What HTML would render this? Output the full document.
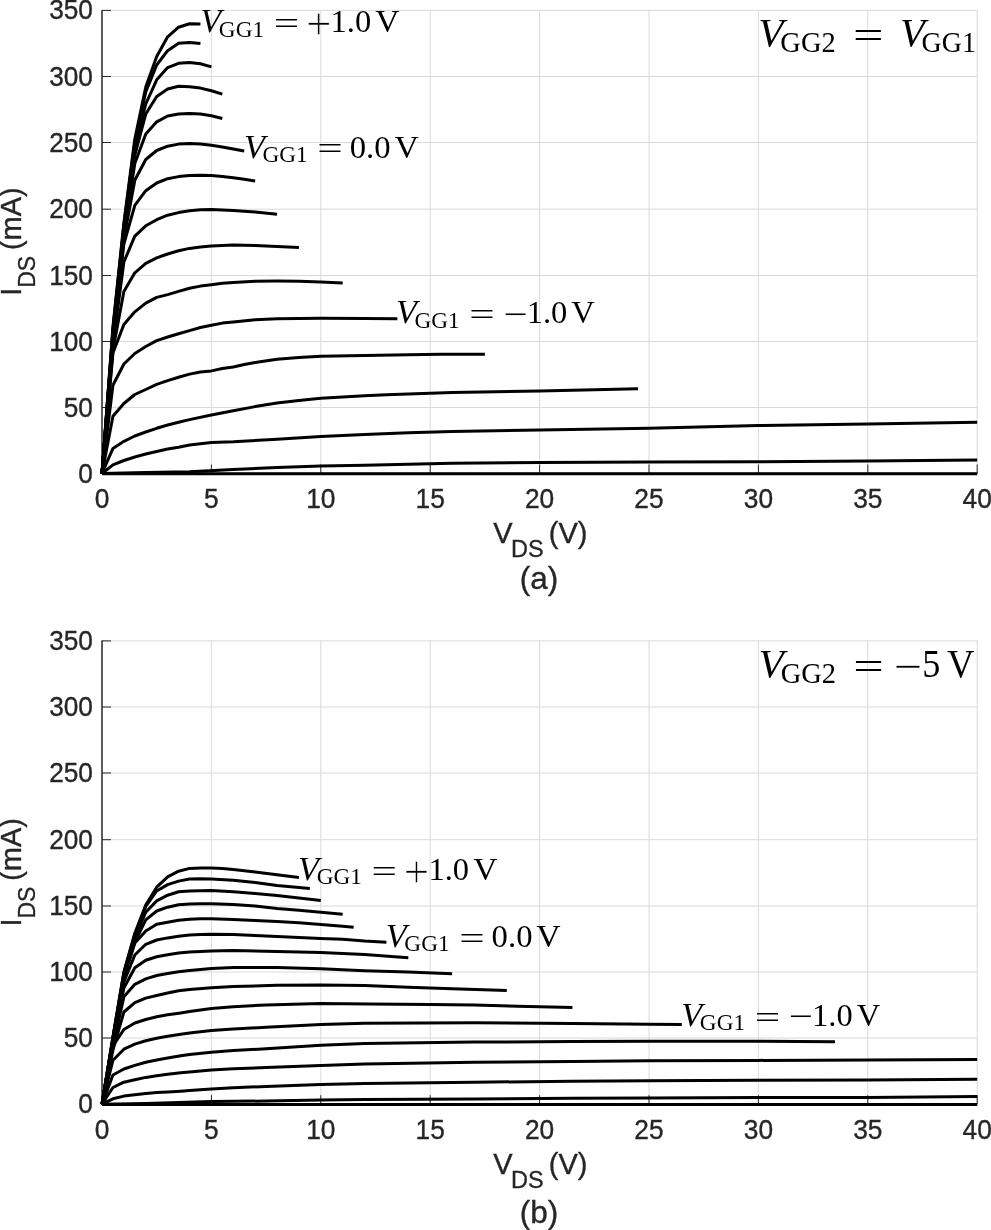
<!DOCTYPE html>
<html><head><meta charset="utf-8"><title>I-V characteristics</title>
<style>
html,body{margin:0;padding:0;background:#fff;}
body{width:991px;height:1230px;overflow:hidden;}
svg{display:block;}
.tk{font-family:'Liberation Sans',Arial,sans-serif;font-size:27px;fill:#262626;stroke:#262626;stroke-width:0.35px;}
.yl{font-family:'Liberation Sans',Arial,sans-serif;font-size:29px;fill:#262626;stroke:#262626;stroke-width:0.35px;}
.ys{font-family:'Liberation Sans',Arial,sans-serif;font-size:23px;fill:#262626;stroke:#262626;stroke-width:0.3px;}
</style></head>
<body>
<svg width="991" height="1230" viewBox="0 0 991 1230">
<rect width="991" height="1230" fill="#fff"/>
<path d="M211.40,9.90V473.50M320.80,9.90V473.50M430.20,9.90V473.50M539.60,9.90V473.50M649.00,9.90V473.50M758.40,9.90V473.50M867.80,9.90V473.50M977.20,9.90V473.50M102.00,407.50H977.20M102.00,341.50H977.20M102.00,275.50H977.20M102.00,209.20H977.20M102.00,142.50H977.20M102.00,76.50H977.20M102.00,10.40H977.20" stroke="#dadada" stroke-width="1" fill="none"/>
<path d="M102.00,9.90V473.50" stroke="#262626" stroke-width="1.5" fill="none"/>
<path d="M102.00,473.50H977.20" stroke="#262626" stroke-width="1.5" fill="none"/>
<path d="M211.40,473.50v-9M320.80,473.50v-9M430.20,473.50v-9M539.60,473.50v-9M649.00,473.50v-9M758.40,473.50v-9M867.80,473.50v-9M977.20,473.50v-9M102.00,407.50h9M102.00,341.50h9M102.00,275.50h9M102.00,209.20h9M102.00,142.50h9M102.00,76.50h9M102.00,10.40h9" stroke="#262626" stroke-width="1" fill="none"/>
<polyline points="102.00,473.50 112.94,327.00 123.88,223.00 134.82,139.00 145.76,87.00 156.70,56.60 167.64,36.80 178.58,27.20 189.52,23.70 200.46,24.10" fill="none" stroke="#000" stroke-width="3" stroke-linejoin="round"/>
<polyline points="102.00,473.50 112.94,329.00 123.88,225.00 134.82,142.00 145.76,92.00 156.70,65.00 167.64,50.70 178.58,43.20 189.52,42.50 200.46,43.50" fill="none" stroke="#000" stroke-width="3" stroke-linejoin="round"/>
<polyline points="102.00,473.50 112.94,331.00 123.88,229.00 134.82,149.00 145.76,104.00 156.70,79.80 167.64,67.60 178.58,63.30 189.52,62.60 200.46,63.70 211.40,66.90" fill="none" stroke="#000" stroke-width="3" stroke-linejoin="round"/>
<polyline points="102.00,473.50 112.94,333.00 123.88,232.00 134.82,155.00 145.76,114.00 156.70,96.50 167.64,89.00 178.58,86.30 189.52,86.70 200.46,88.10 211.40,90.80 222.34,94.10" fill="none" stroke="#000" stroke-width="3" stroke-linejoin="round"/>
<polyline points="102.00,473.50 112.94,335.00 123.88,235.00 134.82,163.50 145.76,134.00 156.70,121.80 167.64,116.00 178.58,114.10 189.52,113.50 200.46,114.10 211.40,115.70 222.34,118.50" fill="none" stroke="#000" stroke-width="3" stroke-linejoin="round"/>
<polyline points="102.00,473.50 112.94,338.00 123.88,239.00 134.82,180.20 145.76,159.50 156.70,150.50 167.64,146.20 178.58,144.10 189.52,143.40 200.46,144.00 211.40,145.30 222.34,147.00 233.28,149.00 244.22,150.90" fill="none" stroke="#000" stroke-width="3" stroke-linejoin="round"/>
<polyline points="102.00,473.50 112.94,341.00 123.88,244.00 134.82,205.30 145.76,190.70 156.70,183.00 167.64,178.70 178.58,176.60 189.52,175.50 200.46,175.20 211.40,175.60 222.34,176.40 233.28,177.80 244.22,179.30 255.16,180.90" fill="none" stroke="#000" stroke-width="3" stroke-linejoin="round"/>
<polyline points="102.00,473.50 112.94,345.00 123.88,262.00 134.82,236.10 145.76,225.80 156.70,219.70 167.64,215.20 178.58,212.60 189.52,210.80 200.46,209.80 211.40,209.40 233.28,210.60 255.16,212.00 277.04,214.30" fill="none" stroke="#000" stroke-width="3" stroke-linejoin="round"/>
<polyline points="102.00,473.50 112.94,350.00 123.88,291.50 134.82,272.80 145.76,263.30 156.70,257.80 167.64,254.00 178.58,250.80 189.52,248.40 200.46,247.00 211.40,246.00 233.28,245.00 255.16,245.50 277.04,246.50 298.92,247.50" fill="none" stroke="#000" stroke-width="3" stroke-linejoin="round"/>
<polyline points="102.00,473.50 112.94,353.00 123.88,324.50 134.82,311.80 145.76,303.10 156.70,297.40 167.64,294.60 178.58,291.40 189.52,288.30 200.46,286.10 211.40,284.70 222.34,283.30 233.28,282.50 255.16,281.20 277.04,281.10 298.92,281.30 320.80,282.00 342.68,282.90" fill="none" stroke="#000" stroke-width="3" stroke-linejoin="round"/>
<polyline points="102.00,473.50 112.94,385.30 123.88,364.00 134.82,353.50 145.76,346.50 156.70,340.60 167.64,337.00 178.58,333.70 189.52,330.60 200.46,327.50 211.40,325.30 222.34,323.10 233.28,322.00 255.16,319.80 277.04,318.80 320.80,318.20 364.56,318.40 397.38,318.80" fill="none" stroke="#000" stroke-width="3" stroke-linejoin="round"/>
<polyline points="102.00,473.50 112.94,416.30 123.88,403.50 134.82,394.50 145.76,389.50 156.70,384.30 167.64,380.60 178.58,377.20 189.52,374.10 200.46,372.00 211.40,370.90 222.34,368.50 233.28,367.00 244.22,364.50 255.16,362.50 277.04,359.20 298.92,357.50 320.80,356.30 364.56,355.50 408.32,354.80 441.14,354.20 484.90,354.30" fill="none" stroke="#000" stroke-width="3" stroke-linejoin="round"/>
<polyline points="102.00,473.50 112.94,448.40 123.88,441.30 134.82,436.00 145.76,432.00 156.70,428.30 167.64,425.00 178.58,422.20 189.52,419.60 211.40,415.00 233.28,410.80 255.16,406.60 277.04,403.00 298.92,400.40 320.80,398.30 342.68,396.90 364.56,395.80 386.44,394.70 408.32,393.90 430.20,393.30 452.08,392.60 495.84,391.70 539.60,391.00 583.36,389.90 638.06,388.70" fill="none" stroke="#000" stroke-width="3" stroke-linejoin="round"/>
<polyline points="102.00,473.50 112.94,464.80 123.88,460.50 134.82,457.00 145.76,454.00 156.70,451.50 167.64,449.00 178.58,447.20 189.52,445.00 211.40,442.50 233.28,441.80 277.04,439.20 320.80,436.50 364.56,434.50 408.32,432.70 452.08,431.50 539.60,430.00 649.00,428.30 758.40,425.60 867.80,424.00 977.20,422.30" fill="none" stroke="#000" stroke-width="3" stroke-linejoin="round"/>
<polyline points="102.00,473.50 123.88,473.00 145.76,472.50 189.52,471.80 233.28,469.50 277.04,467.50 320.80,466.00 364.56,465.30 408.32,464.20 452.08,463.20 539.60,462.50 649.00,462.00 758.40,461.70 867.80,461.10 977.20,460.00" fill="none" stroke="#000" stroke-width="3" stroke-linejoin="round"/>
<polyline points="102.00,473.80 977.20,473.80" fill="none" stroke="#000" stroke-width="3" stroke-linejoin="round"/>
<text transform="translate(92.9,482.50) scale(0.972,1)" text-anchor="end" class="tk">0</text>
<text transform="translate(92.9,416.50) scale(0.972,1)" text-anchor="end" class="tk">50</text>
<text transform="translate(92.9,350.50) scale(0.972,1)" text-anchor="end" class="tk">100</text>
<text transform="translate(92.9,284.50) scale(0.972,1)" text-anchor="end" class="tk">150</text>
<text transform="translate(92.9,218.20) scale(0.972,1)" text-anchor="end" class="tk">200</text>
<text transform="translate(92.9,151.50) scale(0.972,1)" text-anchor="end" class="tk">250</text>
<text transform="translate(92.9,85.50) scale(0.972,1)" text-anchor="end" class="tk">300</text>
<text transform="translate(92.9,19.40) scale(0.972,1)" text-anchor="end" class="tk">350</text>
<text transform="translate(102.00,508.10) scale(0.975,1)" text-anchor="middle" class="tk">0</text>
<text transform="translate(211.40,508.10) scale(0.975,1)" text-anchor="middle" class="tk">5</text>
<text transform="translate(320.80,508.10) scale(0.975,1)" text-anchor="middle" class="tk">10</text>
<text transform="translate(430.20,508.10) scale(0.975,1)" text-anchor="middle" class="tk">15</text>
<text transform="translate(539.60,508.10) scale(0.975,1)" text-anchor="middle" class="tk">20</text>
<text transform="translate(649.00,508.10) scale(0.975,1)" text-anchor="middle" class="tk">25</text>
<text transform="translate(758.40,508.10) scale(0.975,1)" text-anchor="middle" class="tk">30</text>
<text transform="translate(867.80,508.10) scale(0.975,1)" text-anchor="middle" class="tk">35</text>
<text transform="translate(977.20,508.10) scale(0.975,1)" text-anchor="middle" class="tk">40</text>
<text transform="translate(493.16,542.90)" style="font-family:'Liberation Sans', Arial, sans-serif;font-size:29px;fill:#262626;stroke:#262626;stroke-width:0.35px">V</text>
<text transform="translate(511.12,556.80)" style="font-family:'Liberation Sans', Arial, sans-serif;font-size:23.5px;fill:#262626;stroke:#262626;stroke-width:0.3px">DS</text>
<text transform="translate(548.76,543.00)" style="font-family:'Liberation Sans', Arial, sans-serif;font-size:29px;fill:#262626;stroke:#262626;stroke-width:0.35px">(V)</text>
<g transform="translate(20.8,295.70) rotate(-90)"><text x="0" y="0" class="yl">I</text><text x="7.90" y="14.2" class="ys">DS</text><text x="45.60" y="0" class="yl">(mA)</text></g>
<path d="M211.40,640.40V1104.20M320.80,640.40V1104.20M430.20,640.40V1104.20M539.60,640.40V1104.20M649.00,640.40V1104.20M758.40,640.40V1104.20M867.80,640.40V1104.20M977.20,640.40V1104.20M102.00,1038.00H977.20M102.00,972.00H977.20M102.00,906.00H977.20M102.00,839.70H977.20M102.00,773.00H977.20M102.00,707.00H977.20M102.00,640.90H977.20" stroke="#dadada" stroke-width="1" fill="none"/>
<path d="M102.00,640.40V1104.20" stroke="#262626" stroke-width="1.5" fill="none"/>
<path d="M102.00,1104.20H977.20" stroke="#262626" stroke-width="1.5" fill="none"/>
<path d="M211.40,1104.20v-9M320.80,1104.20v-9M430.20,1104.20v-9M539.60,1104.20v-9M649.00,1104.20v-9M758.40,1104.20v-9M867.80,1104.20v-9M977.20,1104.20v-9M102.00,1038.00h9M102.00,972.00h9M102.00,906.00h9M102.00,839.70h9M102.00,773.00h9M102.00,707.00h9M102.00,640.90h9" stroke="#262626" stroke-width="1" fill="none"/>
<polyline points="102.00,1104.20 112.94,1037.00 123.88,972.00 134.82,933.20 145.76,905.10 156.70,887.20 167.64,876.80 178.58,871.20 189.52,868.40 200.46,867.90 211.40,868.10 222.34,868.60 233.28,869.50 255.16,872.00 277.04,874.80 298.92,877.50" fill="none" stroke="#000" stroke-width="3" stroke-linejoin="round"/>
<polyline points="102.00,1104.20 112.94,1037.50 123.88,973.00 134.82,935.00 145.76,906.50 156.70,891.00 167.64,884.60 178.58,881.10 189.52,879.00 200.46,878.70 211.40,879.00 233.28,880.20 255.16,882.50 277.04,885.60 298.92,887.50 309.86,888.40" fill="none" stroke="#000" stroke-width="3" stroke-linejoin="round"/>
<polyline points="102.00,1104.20 112.94,1038.00 123.88,974.00 134.82,938.00 145.76,912.20 156.70,900.90 167.64,895.20 178.58,891.70 189.52,891.00 200.46,890.70 211.40,890.50 233.28,891.70 255.16,893.50 277.04,895.50 298.92,898.00 320.80,900.40" fill="none" stroke="#000" stroke-width="3" stroke-linejoin="round"/>
<polyline points="102.00,1104.20 112.94,1039.00 123.88,976.00 134.82,942.00 145.76,919.90 156.70,911.00 167.64,907.20 178.58,904.80 189.52,904.00 200.46,903.70 211.40,903.70 233.28,904.50 255.16,906.00 277.04,908.40 298.92,910.30 320.80,912.30 342.68,914.30" fill="none" stroke="#000" stroke-width="3" stroke-linejoin="round"/>
<polyline points="102.00,1104.20 112.94,1040.00 123.88,978.00 134.82,943.00 145.76,931.00 156.70,924.20 167.64,922.30 178.58,920.30 189.52,919.20 200.46,918.80 211.40,918.80 233.28,919.40 255.16,920.50 277.04,921.60 298.92,922.70 320.80,924.50 342.68,926.30 353.62,927.30" fill="none" stroke="#000" stroke-width="3" stroke-linejoin="round"/>
<polyline points="102.00,1104.20 112.94,1041.00 123.88,982.00 134.82,955.00 145.76,944.30 156.70,940.00 167.64,937.90 178.58,936.20 189.52,935.00 200.46,934.50 211.40,934.30 233.28,934.50 255.16,935.50 277.04,936.50 298.92,937.50 320.80,938.50 342.68,939.30 364.56,941.00 386.44,942.20" fill="none" stroke="#000" stroke-width="3" stroke-linejoin="round"/>
<polyline points="102.00,1104.20 112.94,1043.00 123.88,988.00 134.82,967.80 145.76,960.30 156.70,956.80 167.64,954.80 178.58,953.10 189.52,952.00 200.46,951.40 211.40,951.00 233.28,950.60 277.04,951.50 320.80,952.50 364.56,954.50 408.32,957.70" fill="none" stroke="#000" stroke-width="3" stroke-linejoin="round"/>
<polyline points="102.00,1104.20 112.94,1046.00 123.88,996.80 134.82,984.30 145.76,978.90 156.70,975.50 167.64,973.60 178.58,971.80 189.52,970.40 200.46,969.40 211.40,968.40 233.28,967.50 277.04,967.60 320.80,968.70 364.56,970.70 408.32,972.00 452.08,973.70" fill="none" stroke="#000" stroke-width="3" stroke-linejoin="round"/>
<polyline points="102.00,1104.20 112.94,1050.00 123.88,1012.00 134.82,1002.70 145.76,998.10 156.70,995.50 167.64,993.00 178.58,990.80 189.52,989.50 211.40,987.70 233.28,986.60 277.04,985.30 320.80,984.90 364.56,985.60 408.32,987.20 452.08,988.70 506.78,990.60" fill="none" stroke="#000" stroke-width="3" stroke-linejoin="round"/>
<polyline points="102.00,1104.20 112.94,1046.00 123.88,1029.50 134.82,1023.00 145.76,1019.50 156.70,1016.80 167.64,1014.80 180.77,1012.90 189.52,1011.60 211.40,1008.60 233.28,1006.70 266.10,1004.90 320.80,1003.50 368.94,1003.90 430.20,1004.50 473.96,1005.00 517.72,1006.20 572.42,1007.50" fill="none" stroke="#000" stroke-width="3" stroke-linejoin="round"/>
<polyline points="102.00,1104.20 112.94,1060.20 123.88,1049.20 134.82,1044.10 145.76,1040.80 156.70,1038.30 167.64,1036.20 180.77,1034.20 189.52,1033.00 211.40,1030.50 233.28,1029.00 266.10,1027.30 320.80,1024.40 364.56,1023.30 473.96,1022.80 572.42,1023.40 649.00,1024.30 681.82,1024.40" fill="none" stroke="#000" stroke-width="3" stroke-linejoin="round"/>
<polyline points="102.00,1104.20 112.94,1075.00 123.88,1069.00 134.82,1065.40 145.76,1062.30 156.70,1060.00 167.64,1058.00 180.77,1055.70 189.52,1054.50 211.40,1052.20 233.28,1050.60 266.10,1048.80 320.80,1045.20 364.56,1043.50 473.96,1042.10 572.42,1041.50 649.00,1041.30 758.40,1041.30 834.98,1041.80" fill="none" stroke="#000" stroke-width="3" stroke-linejoin="round"/>
<polyline points="102.00,1104.20 112.94,1087.50 123.88,1082.20 134.82,1079.70 145.76,1077.40 156.70,1075.70 167.64,1074.20 180.77,1072.80 189.52,1071.90 211.40,1070.00 233.28,1068.80 266.10,1067.50 320.80,1065.50 364.56,1064.00 473.96,1062.30 572.42,1061.50 649.00,1060.80 758.40,1060.40 867.80,1059.90 977.20,1059.50" fill="none" stroke="#000" stroke-width="3" stroke-linejoin="round"/>
<polyline points="102.00,1104.20 112.94,1098.80 123.88,1096.10 134.82,1094.80 145.76,1093.60 156.70,1092.60 167.64,1092.00 180.77,1091.20 189.52,1090.50 211.40,1088.90 233.28,1087.70 266.10,1086.50 320.80,1084.50 364.56,1083.50 473.96,1082.20 572.42,1081.30 649.00,1080.80 758.40,1080.30 867.80,1079.90 977.20,1079.20" fill="none" stroke="#000" stroke-width="3" stroke-linejoin="round"/>
<polyline points="102.00,1104.20 145.76,1103.60 211.40,1101.60 266.10,1101.00 320.80,1099.90 364.56,1099.40 473.96,1099.10 572.42,1098.20 649.00,1097.90 758.40,1097.60 867.80,1097.40 977.20,1096.50" fill="none" stroke="#000" stroke-width="3" stroke-linejoin="round"/>
<polyline points="102.00,1104.50 977.20,1104.50" fill="none" stroke="#000" stroke-width="3" stroke-linejoin="round"/>
<text transform="translate(92.9,1113.20) scale(0.972,1)" text-anchor="end" class="tk">0</text>
<text transform="translate(92.9,1047.00) scale(0.972,1)" text-anchor="end" class="tk">50</text>
<text transform="translate(92.9,981.00) scale(0.972,1)" text-anchor="end" class="tk">100</text>
<text transform="translate(92.9,915.00) scale(0.972,1)" text-anchor="end" class="tk">150</text>
<text transform="translate(92.9,848.70) scale(0.972,1)" text-anchor="end" class="tk">200</text>
<text transform="translate(92.9,782.00) scale(0.972,1)" text-anchor="end" class="tk">250</text>
<text transform="translate(92.9,716.00) scale(0.972,1)" text-anchor="end" class="tk">300</text>
<text transform="translate(92.9,649.90) scale(0.972,1)" text-anchor="end" class="tk">350</text>
<text transform="translate(102.00,1138.80) scale(0.975,1)" text-anchor="middle" class="tk">0</text>
<text transform="translate(211.40,1138.80) scale(0.975,1)" text-anchor="middle" class="tk">5</text>
<text transform="translate(320.80,1138.80) scale(0.975,1)" text-anchor="middle" class="tk">10</text>
<text transform="translate(430.20,1138.80) scale(0.975,1)" text-anchor="middle" class="tk">15</text>
<text transform="translate(539.60,1138.80) scale(0.975,1)" text-anchor="middle" class="tk">20</text>
<text transform="translate(649.00,1138.80) scale(0.975,1)" text-anchor="middle" class="tk">25</text>
<text transform="translate(758.40,1138.80) scale(0.975,1)" text-anchor="middle" class="tk">30</text>
<text transform="translate(867.80,1138.80) scale(0.975,1)" text-anchor="middle" class="tk">35</text>
<text transform="translate(977.20,1138.80) scale(0.975,1)" text-anchor="middle" class="tk">40</text>
<text transform="translate(493.16,1173.60)" style="font-family:'Liberation Sans', Arial, sans-serif;font-size:29px;fill:#262626;stroke:#262626;stroke-width:0.35px">V</text>
<text transform="translate(511.12,1187.50)" style="font-family:'Liberation Sans', Arial, sans-serif;font-size:23.5px;fill:#262626;stroke:#262626;stroke-width:0.3px">DS</text>
<text transform="translate(548.76,1173.70)" style="font-family:'Liberation Sans', Arial, sans-serif;font-size:29px;fill:#262626;stroke:#262626;stroke-width:0.35px">(V)</text>
<g transform="translate(20.8,926.40) rotate(-90)"><text x="0" y="0" class="yl">I</text><text x="7.90" y="14.2" class="ys">DS</text><text x="45.60" y="0" class="yl">(mA)</text></g>
<text transform="translate(519.71,589.20)" style="font-family:'Liberation Sans', Arial, sans-serif;font-size:31.5px;fill:#262626;stroke:#262626;stroke-width:0.35px">(a)</text>
<text transform="translate(519.71,1223.40)" style="font-family:'Liberation Sans', Arial, sans-serif;font-size:31.5px;fill:#262626;stroke:#262626;stroke-width:0.35px">(b)</text>
<text transform="translate(200.31,32.20) scale(1.040,1)" style="font-family:'Liberation Serif', serif;font-style:italic;font-size:33px;fill:#000;">V</text>
<text transform="translate(218.87,36.60) scale(0.969,1)" style="font-family:'Liberation Serif', serif;font-size:24px;fill:#000;">GG1</text>
<text transform="translate(273.64,33.96) scale(1.411,1)" style="font-family:'Liberation Serif', serif;font-size:32px;fill:#000;">=</text>
<text transform="translate(305.94,38.88)" style="font-family:'Liberation Serif', serif;font-size:45px;fill:#000;stroke:#fff;stroke-width:0.6px">+</text>
<text transform="translate(330.57,32.20)" style="font-family:'Liberation Serif', serif;font-size:32.5px;fill:#000;">1.0</text>
<text transform="translate(375.36,32.20) scale(1.033,1)" style="font-family:'Liberation Serif', serif;font-size:32.5px;fill:#000;">V</text>
<text transform="translate(243.91,157.60) scale(1.040,1)" style="font-family:'Liberation Serif', serif;font-style:italic;font-size:33px;fill:#000;">V</text>
<text transform="translate(262.47,162.00) scale(0.969,1)" style="font-family:'Liberation Serif', serif;font-size:24px;fill:#000;">GG1</text>
<text transform="translate(317.24,159.36) scale(1.411,1)" style="font-family:'Liberation Serif', serif;font-size:32px;fill:#000;">=</text>
<text transform="translate(349.69,157.60) scale(1.007,1)" style="font-family:'Liberation Serif', serif;font-size:32.5px;fill:#000;">0.0</text>
<text transform="translate(394.46,157.60) scale(1.037,1)" style="font-family:'Liberation Serif', serif;font-size:32.5px;fill:#000;">V</text>
<text transform="translate(395.91,323.30) scale(1.040,1)" style="font-family:'Liberation Serif', serif;font-style:italic;font-size:33px;fill:#000;">V</text>
<text transform="translate(414.47,327.70) scale(0.969,1)" style="font-family:'Liberation Serif', serif;font-size:24px;fill:#000;">GG1</text>
<text transform="translate(469.24,325.06) scale(1.411,1)" style="font-family:'Liberation Serif', serif;font-size:32px;fill:#000;">=</text>
<text transform="translate(503.16,324.96) scale(1.337,1)" style="font-family:'Liberation Serif', serif;font-size:32px;fill:#000;">−</text>
<text transform="translate(526.68,323.30)" style="font-family:'Liberation Serif', serif;font-size:32.5px;fill:#000;">1.0</text>
<text transform="translate(571.28,323.30)" style="font-family:'Liberation Serif', serif;font-size:32.5px;fill:#000;">V</text>
<text transform="translate(298.11,880.00) scale(1.040,1)" style="font-family:'Liberation Serif', serif;font-style:italic;font-size:33px;fill:#000;">V</text>
<text transform="translate(316.67,884.40) scale(0.969,1)" style="font-family:'Liberation Serif', serif;font-size:24px;fill:#000;">GG1</text>
<text transform="translate(371.44,881.76) scale(1.411,1)" style="font-family:'Liberation Serif', serif;font-size:32px;fill:#000;">=</text>
<text transform="translate(403.74,886.67)" style="font-family:'Liberation Serif', serif;font-size:45px;fill:#000;stroke:#fff;stroke-width:0.6px">+</text>
<text transform="translate(428.38,880.00)" style="font-family:'Liberation Serif', serif;font-size:32.5px;fill:#000;">1.0</text>
<text transform="translate(473.16,880.00) scale(1.033,1)" style="font-family:'Liberation Serif', serif;font-size:32.5px;fill:#000;">V</text>
<text transform="translate(385.81,947.00) scale(1.040,1)" style="font-family:'Liberation Serif', serif;font-style:italic;font-size:33px;fill:#000;">V</text>
<text transform="translate(404.37,951.40) scale(0.969,1)" style="font-family:'Liberation Serif', serif;font-size:24px;fill:#000;">GG1</text>
<text transform="translate(459.14,948.76) scale(1.411,1)" style="font-family:'Liberation Serif', serif;font-size:32px;fill:#000;">=</text>
<text transform="translate(491.59,947.00) scale(1.007,1)" style="font-family:'Liberation Serif', serif;font-size:32.5px;fill:#000;">0.0</text>
<text transform="translate(536.36,947.00) scale(1.037,1)" style="font-family:'Liberation Serif', serif;font-size:32.5px;fill:#000;">V</text>
<text transform="translate(681.31,1025.80) scale(1.040,1)" style="font-family:'Liberation Serif', serif;font-style:italic;font-size:33px;fill:#000;">V</text>
<text transform="translate(699.87,1030.20) scale(0.969,1)" style="font-family:'Liberation Serif', serif;font-size:24px;fill:#000;">GG1</text>
<text transform="translate(754.64,1027.56) scale(1.411,1)" style="font-family:'Liberation Serif', serif;font-size:32px;fill:#000;">=</text>
<text transform="translate(788.56,1027.46) scale(1.337,1)" style="font-family:'Liberation Serif', serif;font-size:32px;fill:#000;">−</text>
<text transform="translate(812.08,1025.80)" style="font-family:'Liberation Serif', serif;font-size:32.5px;fill:#000;">1.0</text>
<text transform="translate(856.68,1025.80)" style="font-family:'Liberation Serif', serif;font-size:32.5px;fill:#000;">V</text>
<text transform="translate(758.32,46.30) scale(1.009,1)" style="font-family:'Liberation Serif', serif;font-style:italic;font-size:41px;fill:#000;">V</text>
<text transform="translate(780.36,51.50) scale(0.982,1)" style="font-family:'Liberation Serif', serif;font-size:29px;fill:#000;">GG2</text>
<text transform="translate(852.89,47.99) scale(1.445,1)" style="font-family:'Liberation Serif', serif;font-size:37.5px;fill:#000;">=</text>
<text transform="translate(900.07,46.30) scale(0.991,1)" style="font-family:'Liberation Serif', serif;font-style:italic;font-size:41px;fill:#000;">V</text>
<text transform="translate(921.58,51.50) scale(0.963,1)" style="font-family:'Liberation Serif', serif;font-size:29px;fill:#000;">GG1</text>
<text transform="translate(758.62,677.30) scale(1.009,1)" style="font-family:'Liberation Serif', serif;font-style:italic;font-size:41px;fill:#000;">V</text>
<text transform="translate(780.66,682.50) scale(0.982,1)" style="font-family:'Liberation Serif', serif;font-size:29px;fill:#000;">GG2</text>
<text transform="translate(853.19,678.99) scale(1.445,1)" style="font-family:'Liberation Serif', serif;font-size:37.5px;fill:#000;">=</text>
<text transform="translate(894.03,678.77) scale(1.319,1)" style="font-family:'Liberation Serif', serif;font-size:37.5px;fill:#000;">−</text>
<text transform="translate(922.23,677.30) scale(0.929,1)" style="font-family:'Liberation Serif', serif;font-size:39px;fill:#000;">5</text>
<text transform="translate(947.02,677.30) scale(0.962,1)" style="font-family:'Liberation Serif', serif;font-size:39.5px;fill:#000;">V</text>
</svg>
</body></html>
